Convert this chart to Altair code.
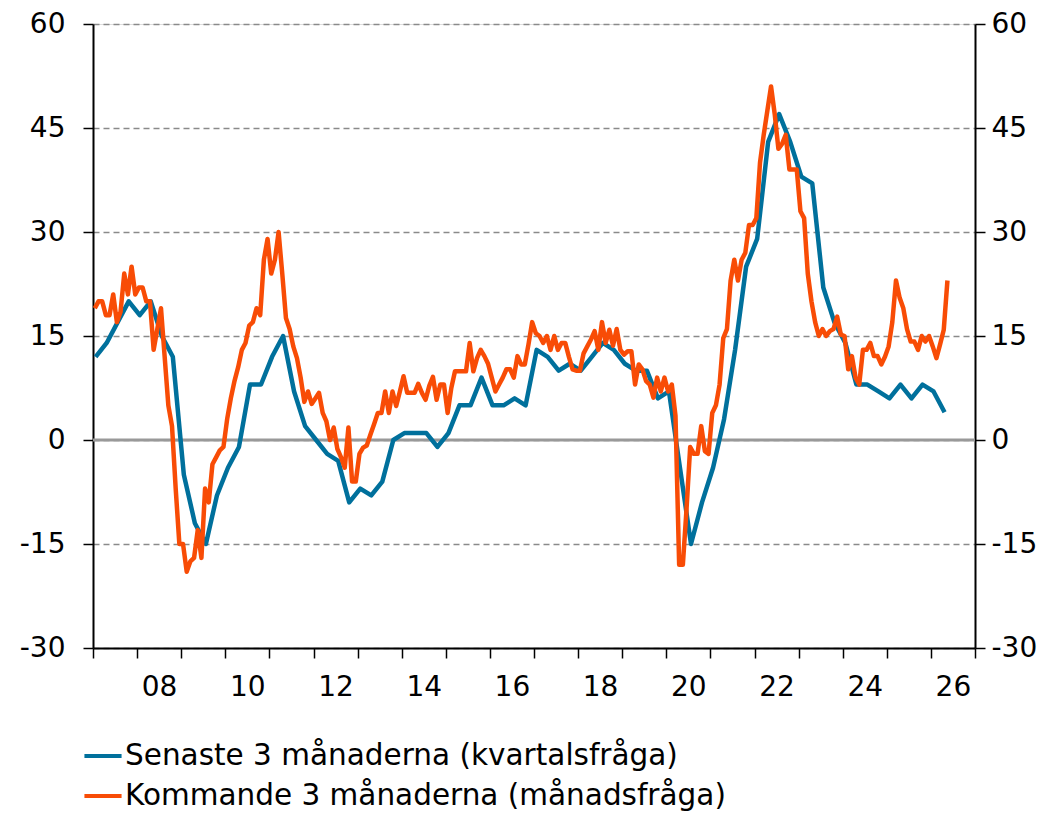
import altair as alt
import pandas as pd

# Quarterly series (Senaste 3 månaderna, kvartalsfråga), first quarter 2007
blue_start = 2007
blue_vals = [
    12, 14, 17, 20,
    18, 20, 15, 12,
    -5, -12, -15, -8,
    -4, -1, 8, 8,
    12, 15, 7, 2,
    0, -2, -3, -9,
    -7, -8, -6, 0,
    1, 1, 1, -1,
    1, 5, 5, 9,
    5, 5, 6, 5,
    13, 12, 10, 11,
    10, 12, 14, 13,
    11, 10, 10, 6,
    7, -4, -15, -9,
    -4, 3, 13, 25,
    29, 43, 47, 43,
    38, 37, 22, 17,
    14, 8, 8, 7,
    6, 8, 6, 8,
    7, 4,
]

# Monthly series (Kommande 3 månaderna, månadsfråga), from January 2007
orange_start = 2007
orange_vals = [
    19, 20, 20, 18, 18, 21, 17, 18.5, 24, 21, 25, 21,
    22, 22, 20, 20, 13, 16, 19, 12, 5, 2, -7, -15,
    -15, -19, -17.5, -17, -13, -17, -7, -9, -3.5, -2.5, -1.5, -1,
    3, 6, 8.5, 10.5, 13, 14, 16.5, 17, 19, 18, 26, 29,
    24, 26, 30, 24, 17.6, 16, 13.5, 11.8, 9, 5.5, 7, 5.2,
    6, 6.8, 3.9, 2.7, 0, 1.8, -1.3, -2.5, -4, 1.8, -6, -6,
    -2, -1.1, -0.8, 0.8, 2.3, 3.9, 3.9, 7, 3.9, 7, 4.9, 7,
    9.2, 6.8, 6.8, 6.8, 8.1, 6.8, 5.8, 7.8, 9.1, 5.8, 8, 8,
    3.9, 7.5, 9.9, 9.9, 9.9, 9.9, 14, 9.9, 11.8, 13, 12.1, 11,
    9, 7, 8, 9, 10.2, 10.2, 9, 12.1, 10.9, 10.9, 13.8, 17,
    15.4, 15, 14, 15, 13, 15, 13, 14, 14, 12, 10.2, 10,
    10, 12.5, 13.5, 14.5, 15.7, 13, 17, 14, 15.9, 13.6, 16, 13,
    12.3, 12.8, 12.8, 8, 10.9, 10.2, 8.5, 8, 6.1, 9, 7, 9,
    7, 8, 3.5, -18, -18, -10, -1, -2, -2, 2, -1.6, -2,
    3.9, 5, 8, 14.7, 16, 23, 26, 23, 26, 27, 31, 31,
    32, 40, 44, 47.5, 51, 47, 42, 42.7, 44, 39, 39, 39,
    33, 32, 24, 20, 17, 15, 16, 15, 15.7, 16, 17.8, 15.2,
    15, 10.2, 12.1, 9, 8, 13, 13, 14, 12.1, 12.1, 10.9, 12,
    13.5, 17, 23, 20.5, 19, 16, 14.2, 14.2, 13, 15, 14.2, 15,
    13.5, 11.8, 13.8, 15.9, 23,
]

series_names = ["Senaste 3 månaderna (kvartalsfråga)", "Kommande 3 månaderna (månadsfråga)"]
series_colors = ["#00709C", "#F84C06"]
y_ticks = [-30, -15, 0, 15, 30, 45, 60]
x_ticks = list(range(2007, 2028))

blue_df = pd.DataFrame({
    "t": [blue_start + k / 4 + 0.06 for k in range(len(blue_vals))],
    "v": blue_vals,
    "serie": series_names[0],
})
orange_df = pd.DataFrame({
    "t": [orange_start + (m + 0.5) / 12 for m in range(len(orange_vals))],
    "v": orange_vals,
    "serie": series_names[1],
})
zero_df = pd.DataFrame({"v": [0]})

FONT = "DejaVu Sans"
AX = 28

xscale = alt.Scale(domain=[2007, 2027], nice=False, zero=False)
yscale = alt.Scale(domain=[-30, 60], nice=False, zero=False)
cscale = alt.Scale(domain=series_names, range=series_colors)

x_axis = alt.Axis(
    values=x_ticks, title=None, orient="bottom", tickSize=10, tickColor="#000",
    tickWidth=1.5, domainColor="#000", domainWidth=2, labelFont=FONT,
    labelFontSize=AX, labelColor="#000", labelPadding=15, labelOffset=22,
    labelFlush=False, labelOverlap=False, grid=False,
    labelExpr="(datum.value % 2 == 0 && datum.value < 2027) ? slice(toString(datum.value), 2) : ''",
)
y_left = alt.Axis(
    values=y_ticks, title=None, orient="left", tickSize=10, tickColor="#000",
    tickWidth=1.5, domainColor="#000", domainWidth=2, labelFont=FONT,
    labelFontSize=AX, labelColor="#000", labelPadding=18, grid=True,
    gridDash=[6, 4], gridColor="#8a8a8a", gridWidth=1.5,
    labelExpr="toString(datum.value)",
)
y_right = alt.Axis(
    values=y_ticks, title=None, orient="right", tickSize=10, tickColor="#000",
    tickWidth=1.5, domainColor="#000", domainWidth=2, labelFont=FONT,
    labelFontSize=AX, labelColor="#000", labelPadding=6, grid=False,
    labelExpr="toString(datum.value)",
)

legend = alt.Legend(
    title=None, orient="none", legendX=-11, legendY=711, direction="vertical",
    symbolType="stroke", symbolSize=1380, symbolStrokeWidth=4,
    labelFont=FONT, labelFontSize=29.5, labelColor="#000", labelOffset=1,
    rowPadding=4, labelLimit=1000,
)

zero = alt.Chart(zero_df).mark_rule(color="#999999", strokeWidth=3).encode(
    y=alt.Y("v:Q", scale=yscale, axis=None)
)

blue = alt.Chart(blue_df).mark_line(strokeWidth=4.5, strokeJoin="round").encode(
    x=alt.X("t:Q", scale=xscale, axis=x_axis),
    y=alt.Y("v:Q", scale=yscale, axis=y_left),
    color=alt.Color("serie:N", scale=cscale, legend=legend),
)

orange = alt.Chart(orange_df).mark_line(strokeWidth=4.5, strokeJoin="round").encode(
    x=alt.X("t:Q", scale=xscale, axis=x_axis),
    y=alt.Y("v:Q", scale=yscale, axis=y_right),
    color=alt.Color("serie:N", scale=cscale, legend=legend),
)

chart = alt.layer(zero, blue, orange).resolve_axis(y="independent").resolve_scale(
    y="shared", x="shared", color="shared"
).properties(
    width=882, height=624,
    autosize=alt.AutoSizeParams(type="none"),
    padding={"left": 85, "top": 16, "right": 78, "bottom": 166},
).configure_view(stroke=None).configure(background="white")

chart.save("out.html", embed_options={"renderer": "svg", "actions": False})
